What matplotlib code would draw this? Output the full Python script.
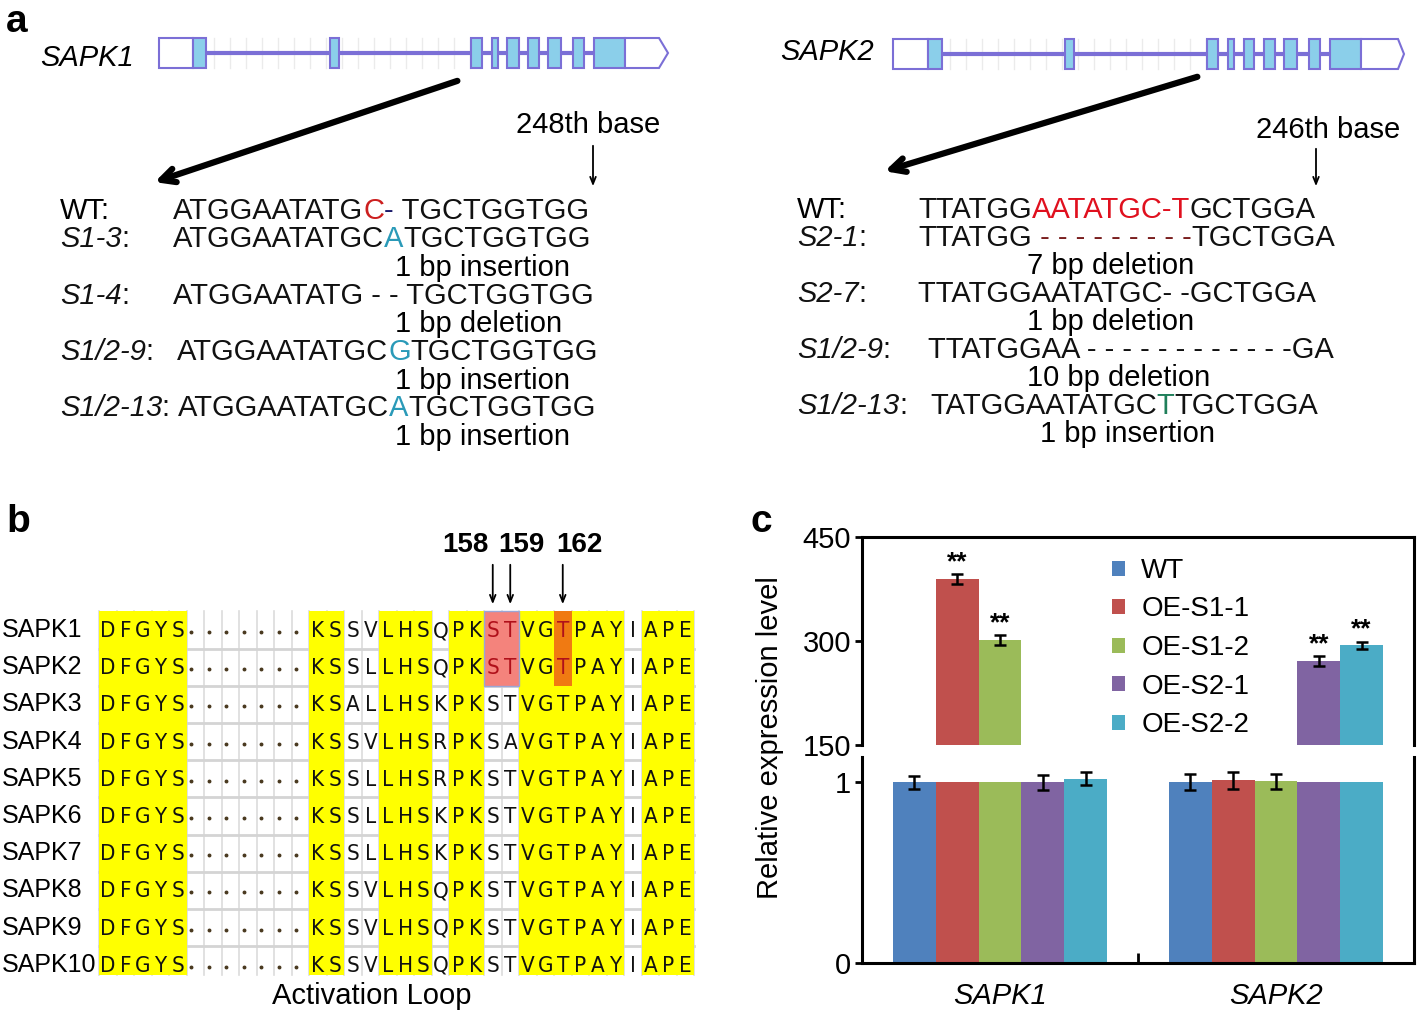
import numpy as np
import matplotlib
matplotlib.use('Agg')
import matplotlib.pyplot as plt
from matplotlib import font_manager
from matplotlib.patches import Rectangle, Polygon

plt.rcParams['font.family'] = ['Liberation Sans', 'DejaVu Sans']

# narrow letters for the alignment, if such a face is installed
_fonts = font_manager.fontManager.ttflist
_names = {f.name for f in _fonts}
if 'Liberation Sans Narrow' in _names:
    ALN_FONT = dict(family=['Liberation Sans Narrow', 'DejaVu Sans'], fontsize=18)
elif any(f.name == 'DejaVu Sans' and 'condensed' in str(f.stretch) for f in _fonts):
    ALN_FONT = dict(family=['DejaVu Sans'], fontstretch='condensed', fontsize=16)
else:
    ALN_FONT = dict(family=['Liberation Sans', 'DejaVu Sans'], fontsize=16.5)

# ---------------- data ----------------
# gene models, coordinates along the track (5'UTR, exons, 3'UTR with tip)
sapk1_utr5 = (0, 34)
sapk1_exons = [(34, 47), (171, 180), (312, 323), (333, 339), (348, 360),
               (369, 380), (389, 402), (414, 425), (435, 466)]
sapk1_utr3 = (466, 500, 509)
sapk2_utr5 = (0, 35)
sapk2_exons = [(35, 49), (172, 181), (314, 325), (335, 341), (351, 361),
               (371, 382), (391, 404), (416, 427), (437, 468)]
sapk2_utr3 = (468, 505, 511)

# mutant sequences: (line, [(text, kind)], note)
sapk1_rows = [
    ('WT', [('ATGGAATATG', 'plain'), ('C', 'wt'), ('-', 'gap'), (' TGCTGGTGG', 'plain')], None),
    ('S1-3', [('ATGGAATATGC', 'plain'), ('A', 'ins'), ('TGCTGGTGG', 'plain')], '1 bp insertion'),
    ('S1-4', [('ATGGAATATG - - TGCTGGTGG', 'plain')], '1 bp deletion'),
    ('S1/2-9', [('ATGGAATATGC', 'plain'), ('G', 'ins'), ('TGCTGGTGG', 'plain')], '1 bp insertion'),
    ('S1/2-13', [('ATGGAATATGC', 'plain'), ('A', 'ins'), ('TGCTGGTGG', 'plain')], '1 bp insertion'),
]
sapk2_rows = [
    ('WT', [('TTATGG', 'plain'), ('AATATGC-T', 'wt2'), ('GCTGGA', 'plain')], None),
    ('S2-1', [('TTATGG', 'plain'), (' - - - - - - - - -', 'del'), ('TGCTGGA', 'plain')], '7 bp deletion'),
    ('S2-7', [('TTATGGAATATGC- -GCTGGA', 'plain')], '1 bp deletion'),
    ('S1/2-9', [('TTATGGAA - - - - - - - - - - - -GA', 'plain')], '10 bp deletion'),
    ('S1/2-13', [('TATGGAATATGC', 'plain'), ('T', 'ins2'), ('TGCTGGA', 'plain')], '1 bp insertion'),
]

# activation loop alignment
aln_names = ['SAPK1', 'SAPK2', 'SAPK3', 'SAPK4', 'SAPK5',
             'SAPK6', 'SAPK7', 'SAPK8', 'SAPK9', 'SAPK10']
aln_seqs = [
    'DFGYS.......KSSVLHSQPKSTVGTPAYIAPE',
    'DFGYS.......KSSLLHSQPKSTVGTPAYIAPE',
    'DFGYS.......KSALLHSKPKSTVGTPAYIAPE',
    'DFGYS.......KSSVLHSRPKSAVGTPAYIAPE',
    'DFGYS.......KSSLLHSRPKSTVGTPAYIAPE',
    'DFGYS.......KSSLLHSKPKSTVGTPAYIAPE',
    'DFGYS.......KSSLLHSKPKSTVGTPAYIAPE',
    'DFGYS.......KSSVLHSQPKSTVGTPAYIAPE',
    'DFGYS.......KSSVLHSQPKSTVGTPAYIAPE',
    'DFGYS.......KSSVLHSQPKSTVGTPAYIAPE',
]
aln_shade = 'YYYYY.......YY..YYY.YY..YYYYYY.YYY'
site_labels = ['158', '159', '162']
site_cols = [22, 23, 26]

# expression
genes = ['SAPK1', 'SAPK2']
lines = ['WT', 'OE-S1-1', 'OE-S1-2', 'OE-S2-1', 'OE-S2-2']
low_vals = [[1.0, 1.0], [1.0, 1.01], [1.0, 1.005], [1.0, 1.0], [1.02, 1.0]]
low_err = [[0.037, 0.045], [np.nan, 0.045], [np.nan, 0.04], [0.04, np.nan], [0.037, np.nan]]
up_vals = [[np.nan, np.nan], [389, np.nan], [301, np.nan], [np.nan, 271], [np.nan, 294]]
up_err = [[np.nan, np.nan], [7, np.nan], [7, np.nan], [np.nan, 7], [np.nan, 5]]

# ---------------- styles ----------------
seq_colors = {'plain': '#111111', 'wt': '#cc1f1f', 'gap': '#1a1a6a', 'ins': '#2a9ab8',
              'wt2': '#e0101e', 'del': '#7a1f1f', 'ins2': '#1f7f5a'}
bar_colors = ['#4f81bd', '#c0504d', '#9bbb59', '#8064a2', '#4bacc6']
gene_line = '#7b6fd6'
exon_fill = '#8bcfea'
FS = 21

W, H = 1418, 1014
fig = plt.figure(figsize=(W / 100, H / 100), dpi=100)
ax = fig.add_axes([0, 0, 1, 1])
ax.set_xlim(0, W)
ax.set_ylim(H, 0)
ax.axis('off')
renderer = fig.canvas.get_renderer()


def text_width(s, **kw):
    t = ax.text(0, 0, s, **kw)
    w = t.get_window_extent(renderer).width
    t.remove()
    return w


def put_parts(x, y, parts):
    # parts: (text, colour, style)
    done = ''
    for s, c, st in parts:
        dx = text_width(done, fontsize=FS) if done else 0
        ax.text(x + dx, y, s, fontsize=FS, color=c, style=st, va='center', ha='left')
        done += s


def draw_gene(x0, yc, utr5, exons, utr3, name, lx, ly):
    h = 30
    top, bot = yc - h / 2, yc + h / 2
    for gx in np.arange(x0 + exons[0][1] + 8, x0 + exons[2][0], 16):
        ax.plot([gx, gx], [top, bot], color='#ebebeb', lw=1, zorder=1)
    for (a0, a1), (b0, b1) in zip(exons[:-1], exons[1:]):
        ax.plot([x0 + a1, x0 + b0], [yc, yc], color=gene_line, lw=3, zorder=2)
    ax.add_patch(Rectangle((x0 + utr5[0], top), utr5[1] - utr5[0], h, fc='white',
                           ec=gene_line, lw=1.5, zorder=3))
    for e0, e1 in exons:
        ax.add_patch(Rectangle((x0 + e0, top), e1 - e0, h, fc=exon_fill,
                               ec=gene_line, lw=1.5, zorder=3))
    u0, u1, tip = utr3
    ax.add_patch(Polygon([(x0 + u0, top), (x0 + u1, top), (x0 + tip, yc),
                          (x0 + u1, bot), (x0 + u0, bot)], closed=True,
                         fc='white', ec=gene_line, lw=1.5, zorder=3))
    ax.text(lx, ly, name, fontsize=FS, style='italic', ha='left', va='center')


def draw_rows(rows, lab_x, seq_x, ys, note_x, note_ys):
    k = 0
    for (name, parts, note), sx, y in zip(rows, seq_x, ys):
        if name == 'WT':
            ax.text(lab_x, y, 'WT:', fontsize=FS, va='center')
        else:
            put_parts(lab_x, y, [(name, '#111111', 'italic'), (':', '#111111', 'normal')])
        put_parts(sx, y, [(s, seq_colors[kind], 'normal') for s, kind in parts])
        if note:
            ax.text(note_x[k], note_ys[k], note, fontsize=FS, va='center')
            k += 1


# ---------------- panel a ----------------
ax.text(6, 22, 'a', fontsize=28, fontweight='bold', va='center')
draw_gene(159, 53, sapk1_utr5, sapk1_exons, sapk1_utr3, 'SAPK1', 40, 58)
draw_gene(893, 54, sapk2_utr5, sapk2_exons, sapk2_utr3, 'SAPK2', 780, 52)

big = dict(arrowstyle='->,head_length=1.0,head_width=0.5', lw=4.5, color='black')
ax.annotate('', xy=(152, 183), xytext=(460, 80), arrowprops=big)
ax.annotate('', xy=(882, 172), xytext=(1200, 76), arrowprops=big)

thin = dict(arrowstyle='->,head_length=0.5,head_width=0.2', lw=1.3, color='black')
ax.text(588, 125, '248th base', fontsize=FS, ha='center', va='center')
ax.annotate('', xy=(593, 189), xytext=(593, 143), arrowprops=thin)
ax.text(1328, 130, '246th base', fontsize=FS, ha='center', va='center')
ax.annotate('', xy=(1316, 189), xytext=(1316, 146), arrowprops=thin)

draw_rows(sapk1_rows, 60, [173, 173, 173, 177, 178], [211, 239, 296, 352, 408],
          [395, 395, 395, 395], [268, 324, 381, 437])
draw_rows(sapk2_rows, 797, [918, 918, 918, 928, 930], [210, 238, 294, 350, 406],
          [1027, 1027, 1027, 1040], [266, 322, 378, 434])

# ---------------- panel b ----------------
ax.text(6, 522, 'b', fontsize=28, fontweight='bold', va='center')
x0, cw = 99, 17.5
y0, rh = 611.4, 37.2
ncol = len(aln_seqs[0])
nrow = len(aln_seqs)
x_end = x0 + ncol * cw
y_end = 975

for k in range(ncol + 1):
    ax.plot([x0 + k * cw] * 2, [y0, y_end], color='#dcdcdc', lw=1.2, zorder=1)
for r in range(1, nrow):
    ax.plot([x0, x_end], [y0 + r * rh] * 2, color='#d4d4d4', lw=2, zorder=1)

c = 0
while c < ncol:
    if aln_shade[c] == 'Y':
        c1 = c
        while c1 < ncol and aln_shade[c1] == 'Y':
            c1 += 1
        ax.add_patch(Rectangle((x0 + c * cw, y0), (c1 - c) * cw, y_end - y0,
                               fc='#ffff00', ec='none', zorder=2))
        c = c1
    else:
        c += 1

ax.add_patch(Rectangle((x0 + site_cols[0] * cw, y0), 2 * cw, 2 * rh,
                       fc='#f4837c', ec='#9aa6d6', lw=1, zorder=3))
ax.add_patch(Rectangle((x0 + site_cols[2] * cw, y0), cw, 2 * rh,
                       fc='#f07a12', ec='none', zorder=3))

for r, (name, seq) in enumerate(zip(aln_names, aln_seqs)):
    yc = y0 + (r + 0.5) * rh
    ax.text(2, yc, name, fontsize=18, va='center', ha='left')
    for c, ch in enumerate(seq):
        xc = x0 + (c + 0.5) * cw
        if ch == '.':
            ax.plot(xc - 4, yc + 2, 'o', ms=1.8, color='#4a3a20', zorder=4)
            continue
        col = '#b0101a' if (r < 2 and c in site_cols) else '#111111'
        ax.text(xc, yc + 1, ch, color=col, ha='center', va='center', zorder=4, **ALN_FONT)

for lab, lx, c in zip(site_labels, [465, 521, 579], site_cols):
    ax.text(lx, 545, lab, fontsize=20, fontweight='bold', ha='center', va='center')
    xc = x0 + (c + 0.5) * cw
    ax.annotate('', xy=(xc, 607), xytext=(xc, 562), arrowprops=thin)

ax.text(372, 996, 'Activation Loop', fontsize=FS, ha='center', va='center')

# ---------------- panel c ----------------
ax.text(750, 522, 'c', fontsize=28, fontweight='bold', va='center')
ax_up = fig.add_axes([862 / W, 1 - 745 / H, (1414 - 862) / W, (745 - 537) / H])
ax_lo = fig.add_axes([862 / W, 1 - 963 / H, (1414 - 862) / W, (963 - 757) / H])

xg = np.arange(len(genes))
bw = 0.155
eb = dict(fmt='none', ecolor='black', elinewidth=1.8, capsize=4, capthick=1.8, zorder=4)
for i, name in enumerate(lines):
    xs = xg + (i - 2) * bw
    ax_lo.bar(xs, low_vals[i], bw, color=bar_colors[i], zorder=2, label=name)
    ax_lo.errorbar(xs, low_vals[i], yerr=low_err[i], **eb)
    ax_up.bar(xs, up_vals[i], bw, color=bar_colors[i], zorder=2)
    ax_up.errorbar(xs, up_vals[i], yerr=up_err[i], **eb)
    for xv, v, e in zip(xs, up_vals[i], up_err[i]):
        if not np.isnan(v):
            ax_up.annotate('**', (xv, v + e), xytext=(0, 0), textcoords='offset points',
                           ha='center', va='bottom', fontsize=19, fontweight='bold')

for a in (ax_up, ax_lo):
    a.set_xlim(-0.5, 1.5)
    for s in a.spines.values():
        s.set_linewidth(2.2)
    a.tick_params(axis='y', direction='out', length=5, width=2, labelsize=FS, pad=3)

ax_up.set_ylim(150, 450)
ax_up.set_yticks([150, 300, 450])
ax_up.set_xticks([])
ax_up.spines['bottom'].set_visible(False)

ax_lo.set_ylim(0, 1.14)
ax_lo.set_yticks([0, 1])
ax_lo.set_xticks(xg)
ax_lo.set_xticklabels(genes, style='italic', fontsize=FS)
ax_lo.tick_params(axis='x', length=0, pad=14)
ax_lo.set_xticks([0.5], minor=True)
ax_lo.tick_params(axis='x', which='minor', direction='in', length=7, width=2)
ax_lo.spines['top'].set_visible(False)

handles, labels = ax_lo.get_legend_handles_labels()
ax_up.legend(handles, labels, loc='upper left', bbox_to_anchor=(1112 / W, 1 - 558 / H),
             bbox_transform=fig.transFigure, frameon=False, fontsize=20,
             handlelength=0.45, handleheight=0.45, handletextpad=0.6,
             labelspacing=0.45, borderpad=0, borderaxespad=0)

fig.text(770 / W, 1 - 738 / H, 'Relative expression level', rotation=90,
         fontsize=FS, ha='center', va='center')

fig.savefig('out.png', dpi=100, facecolor='white')
